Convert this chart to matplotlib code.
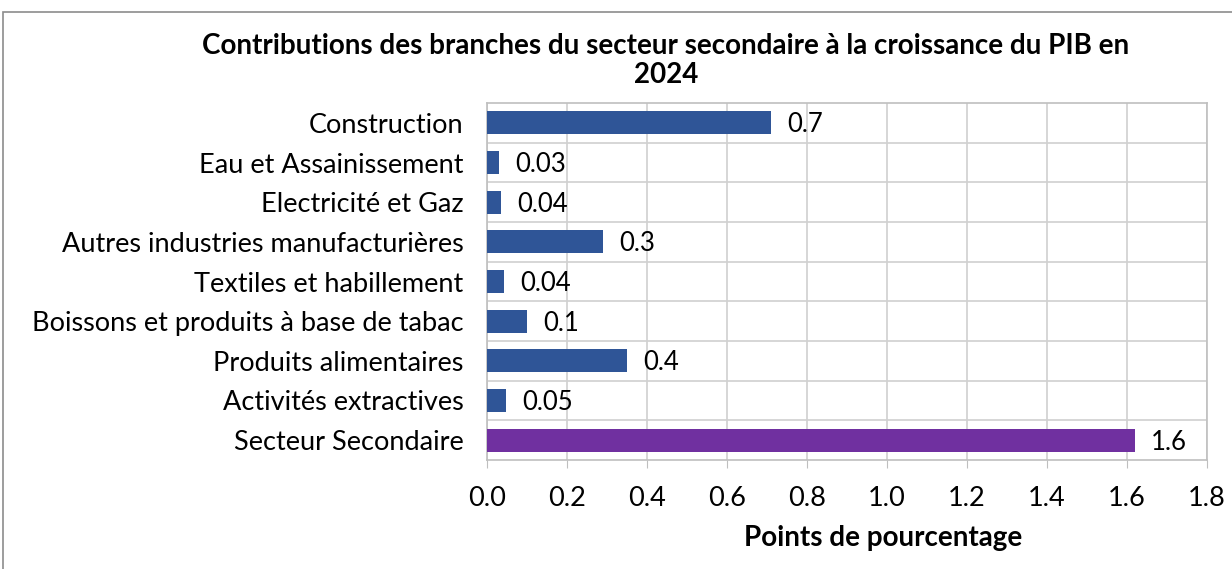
import matplotlib
matplotlib.use("Agg")
from matplotlib import pyplot as plt
from matplotlib.patches import Rectangle

categories = ["Construction", "Eau et Assainissement", "Electricité et Gaz",
              "Autres industries manufacturières", "Textiles et habillement",
              "Boissons et produits à base de tabac", "Produits alimentaires",
              "Activités extractives", "Secteur Secondaire"]
values = [0.71, 0.03, 0.035, 0.29, 0.043, 0.10, 0.35, 0.047, 1.62]
labels = ["0.7", "0.03", "0.04", "0.3", "0.04", "0.1", "0.4", "0.05", "1.6"]
colors = ["#2F5597"] * 8 + ["#7030A0"]
xticks = [0.0, 0.2, 0.4, 0.6, 0.8, 1.0, 1.2, 1.4, 1.6, 1.8]

plt.rcParams['font.family'] = ['Lato', 'DejaVu Sans']

W, H = 1232, 569
fig = plt.figure(figsize=(W / 100, H / 100), dpi=100)
ax = fig.add_axes([487 / W, 1 - 460 / H, 720 / W, 357 / H])

ypos = list(range(len(categories)))
ax.barh(ypos, values, height=0.58, color=colors, zorder=3)
for y, v, t in zip(ypos, values, labels):
    ax.text(v + 0.04, y + 0.05, t, va='center', ha='left', fontsize=18.5, zorder=4)

ax.set_yticks(ypos)
ax.set_yticklabels(categories, fontsize=19.5)
ax.set_ylim(len(categories) - 0.5, -0.5)
ax.set_xlim(0, 1.8)
ax.set_xticks(xticks)
ax.set_xticklabels(["%.1f" % x for x in xticks], fontsize=19.5)
ax.tick_params(axis='y', length=0, pad=17)
ax.tick_params(axis='x', length=6, color='#BFBFBF', pad=13)
ax.grid(True, color='#D0D0D0', linewidth=1.2, zorder=0)
ax.set_yticks([y + 0.5 for y in ypos[:-1]], minor=True)
ax.grid(True, which='minor', axis='y', color='#D0D0D0', linewidth=1.2, zorder=0)
ax.grid(False, which='major', axis='y')
ax.tick_params(axis='y', which='minor', length=0)
for s in ax.spines.values():
    s.set_color('#BFBFBF')
    s.set_linewidth(1.2)

ax.set_xlabel("Points de pourcentage", fontsize=20, fontweight='bold')
ax.xaxis.set_label_coords((883 - 487) / 720, -0.183)

fig.text(666 / W, 1 - 46 / H, "Contributions des branches du secteur secondaire à la croissance du PIB en",
         ha='center', va='center', fontsize=20, fontweight='bold')
fig.text(666 / W, 1 - 75 / H, "2024", ha='center', va='center', fontsize=20, fontweight='bold')

fig.patches.append(Rectangle((3 / W, -0.1), 1.2, 1 - 12 / H + 0.1, transform=fig.transFigure,
                             fill=False, edgecolor='#8C8C8C', linewidth=1.2))

plt.savefig('out.png', dpi=100)
